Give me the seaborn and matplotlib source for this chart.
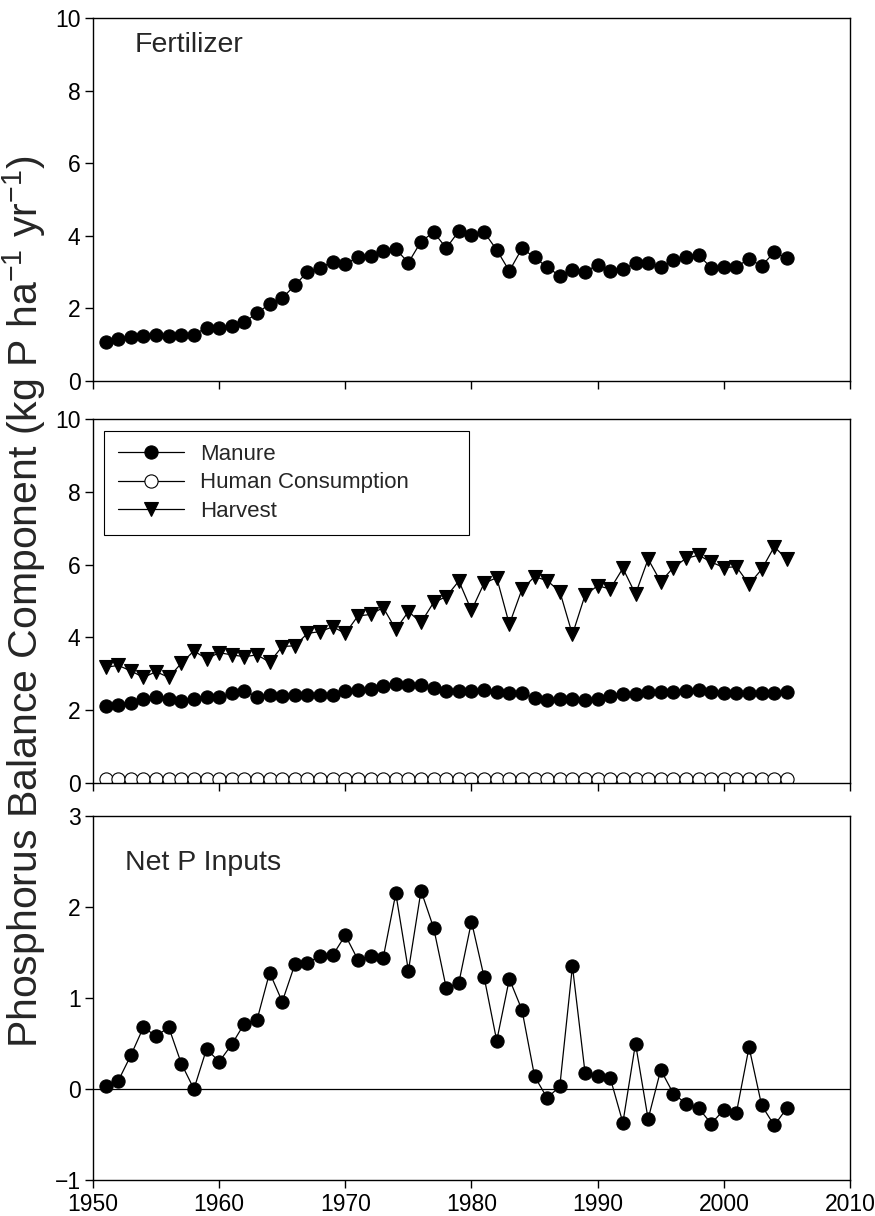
import numpy as np
import pandas as pd
import matplotlib
matplotlib.use("Agg")
import matplotlib.pyplot as plt
from matplotlib import font_manager
import seaborn as sns

years = list(range(1951, 2006))

fertilizer = [1.08, 1.15, 1.22, 1.25, 1.27, 1.25, 1.28, 1.28, 1.47, 1.47,
              1.52, 1.63, 1.86, 2.13, 2.28, 2.64, 3.00, 3.12, 3.29, 3.21,
              3.42, 3.45, 3.58, 3.63, 3.26, 3.84, 4.10, 3.66, 4.13, 4.02,
              4.10, 3.61, 3.03, 3.65, 3.41, 3.13, 2.90, 3.06, 3.01, 3.20,
              3.04, 3.09, 3.24, 3.26, 3.15, 3.33, 3.42, 3.47, 3.12, 3.15,
              3.15, 3.36, 3.17, 3.55, 3.38]

manure = [2.12, 2.14, 2.19, 2.30, 2.35, 2.30, 2.26, 2.30, 2.35, 2.35,
          2.46, 2.53, 2.37, 2.41, 2.39, 2.43, 2.43, 2.43, 2.41, 2.54,
          2.55, 2.58, 2.66, 2.71, 2.69, 2.69, 2.60, 2.53, 2.53, 2.53,
          2.55, 2.51, 2.48, 2.46, 2.34, 2.28, 2.31, 2.32, 2.28, 2.31,
          2.40, 2.44, 2.44, 2.51, 2.51, 2.51, 2.53, 2.55, 2.51, 2.48,
          2.48, 2.48, 2.48, 2.48, 2.49]

human_consumption = [0.10, 0.10, 0.10, 0.10, 0.10, 0.10, 0.10, 0.10, 0.10, 0.10,
                     0.10, 0.10, 0.11, 0.11, 0.11, 0.11, 0.11, 0.11, 0.11, 0.11,
                     0.11, 0.11, 0.11, 0.11, 0.11, 0.11, 0.11, 0.11, 0.11, 0.11,
                     0.11, 0.11, 0.11, 0.11, 0.11, 0.11, 0.11, 0.11, 0.11, 0.11,
                     0.12, 0.12, 0.12, 0.12, 0.12, 0.12, 0.12, 0.12, 0.12, 0.12,
                     0.12, 0.12, 0.12, 0.12, 0.12]

harvest = [3.18, 3.23, 3.08, 2.90, 3.06, 2.90, 3.29, 3.63, 3.41, 3.58,
           3.52, 3.47, 3.52, 3.32, 3.75, 3.77, 4.11, 4.16, 4.29, 4.11,
           4.59, 4.63, 4.82, 4.22, 4.71, 4.41, 4.96, 5.12, 5.55, 4.74,
           5.49, 5.64, 4.36, 5.32, 5.67, 5.56, 5.26, 4.08, 5.16, 5.42,
           5.33, 5.90, 5.19, 6.15, 5.53, 5.92, 6.17, 6.26, 6.07, 5.92,
           5.94, 5.46, 5.87, 6.49, 6.15]

net_p_inputs = [0.03, 0.09, 0.37, 0.68, 0.58, 0.68, 0.28, 0.00, 0.44, 0.30,
                0.49, 0.72, 0.76, 1.28, 0.96, 1.37, 1.39, 1.46, 1.47, 1.69,
                1.42, 1.46, 1.44, 2.15, 1.30, 2.18, 1.77, 1.11, 1.17, 1.84,
                1.23, 0.53, 1.21, 0.87, 0.14, -0.10, 0.03, 1.35, 0.18, 0.14,
                0.12, -0.37, 0.50, -0.33, 0.21, -0.05, -0.16, -0.21, -0.38, -0.23,
                -0.26, 0.46, -0.18, -0.40, -0.21]

x_ticks = [1950, 1960, 1970, 1980, 1990, 2000, 2010]

sns.set_theme(style="ticks")
plt.rcParams["font.family"] = ["Liberation Sans", "DejaVu Sans"]
plt.rcParams["axes.linewidth"] = 1.0
plt.rcParams["axes.edgecolor"] = "black"
plt.rcParams["xtick.color"] = "black"
plt.rcParams["ytick.color"] = "black"
plt.rcParams["mathtext.default"] = "regular"

# narrow face for the long vertical axis title, if one is installed
installed = {f.name for f in font_manager.fontManager.ttflist}
if "Liberation Sans Narrow" in installed:
    ylabel_family, ylabel_size = ["Liberation Sans Narrow", "DejaVu Sans"], 33
else:
    ylabel_family, ylabel_size = ["Liberation Sans", "DejaVu Sans"], 29.5

fig = plt.figure(figsize=(8.75, 12.16), dpi=100)
left, width = 0.1063, 0.8651
ax1 = fig.add_axes([left, 0.6867, width, 0.2985])
ax2 = fig.add_axes([left, 0.3561, width, 0.2993])
ax3 = fig.add_axes([left, 0.0296, width, 0.2993])

line_kw = dict(color="black", linewidth=0.9, markeredgecolor="black",
               markeredgewidth=0.8)

df = pd.DataFrame({"year": years, "Fertilizer": fertilizer, "Manure": manure,
                   "Human Consumption": human_consumption, "Harvest": harvest,
                   "Net": net_p_inputs})

sns.lineplot(data=df, x="year", y="Fertilizer", ax=ax1, marker="o",
             markersize=9.5, **line_kw)
sns.lineplot(data=df, x="year", y="Manure", ax=ax2, marker="o",
             markersize=9.5, label="Manure", **line_kw)
sns.lineplot(data=df, x="year", y="Human Consumption", ax=ax2, marker="o",
             markersize=9.5, markerfacecolor="white",
             label="Human Consumption", **line_kw)
sns.lineplot(data=df, x="year", y="Harvest", ax=ax2, marker="v",
             markersize=10.5, label="Harvest", **line_kw)
ax3.axhline(0, color="black", linewidth=0.9, zorder=1)
sns.lineplot(data=df, x="year", y="Net", ax=ax3, marker="o",
             markersize=9.5, **line_kw)

for ax in (ax1, ax2, ax3):
    ax.set_xlim(1950, 2010)
    ax.set_xticks(x_ticks)
    ax.set_xlabel("")
    ax.set_ylabel("")
    ax.tick_params(direction="out", labelsize=16.5, width=1.0, length=6,
                   pad=3)
    for s in ax.spines.values():
        s.set_visible(True)
        s.set_color("black")
        s.set_linewidth(1.0)

ax1.set_ylim(0, 10)
ax1.set_yticks([0, 2, 4, 6, 8, 10])
ax1.set_xticklabels([])
ax1.text(0.055, 0.925, "Fertilizer", transform=ax1.transAxes, fontsize=20.5,
         ha="left", va="center")

ax2.set_ylim(0, 10)
ax2.set_yticks([0, 2, 4, 6, 8, 10])
ax2.set_xticklabels([])
leg = ax2.legend(loc="upper left", bbox_to_anchor=(0.015, 0.5, 0.482, 0.468),
                 mode="expand", fontsize=16, frameon=True, fancybox=False,
                 handlelength=3.0, handletextpad=0.7, borderpad=0.6,
                 labelspacing=0.33, borderaxespad=0)
leg.get_frame().set_edgecolor("black")
leg.get_frame().set_linewidth(0.8)
leg.get_frame().set_alpha(1)

ax3.set_ylim(-1, 3)
ax3.set_yticks([-1, 0, 1, 2, 3])
ax3.set_yticklabels(["\u22121", "0", "1", "2", "3"])
ax3.text(0.042, 0.87, "Net P Inputs", transform=ax3.transAxes, fontsize=20.5,
         ha="left", va="center")

fig.text(0.027, 0.505,
         "Phosphorus Balance Component (kg P ha$^{\u22121}$ yr$^{\u22121}$)",
         rotation=90, ha="center", va="center", fontsize=ylabel_size,
         family=ylabel_family)

fig.savefig("out.png", dpi=100, facecolor="white")
